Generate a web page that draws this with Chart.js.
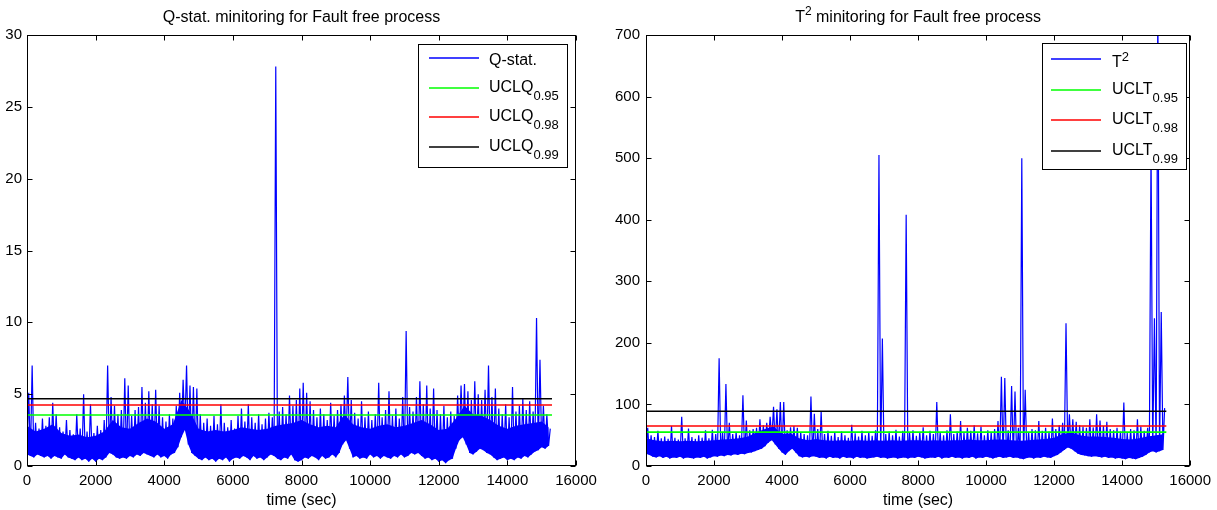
<!DOCTYPE html>
<html><head><meta charset="utf-8">
<script src="https://cdn.jsdelivr.net/npm/chart.js@4.4.1/dist/chart.umd.min.js"></script>
<style>
html,body{margin:0;padding:0;background:#fff;}
#wrap{position:relative;width:1217px;height:510px;overflow:hidden;background:#fff;}
.box{position:absolute;top:0;height:510px;}
canvas{display:block;}
</style></head><body>
<div id="wrap">
<div class="box" style="left:0;width:608px"><canvas id="cq" width="608" height="510"></canvas></div>
<div class="box" style="left:608px;width:609px"><canvas id="ct" width="609" height="510"></canvas></div>
</div>
<script>
// ---- data ----
const BIN_STEP = 100;      // seconds per bin (low value at bin start, high value at mid-bin)
const CORE_STEP = 250;     // seconds between readings of the dense band's upper edge
const END_TIME = 15300;    // last sample time
const xTicks = [0,2000,4000,6000,8000,10000,12000,14000,16000];
const qTicks = [0,5,10,15,20,25,30];
const tTicks = [0,100,200,300,400,500,600,700];
const limitLevels = ['0.95','0.98','0.99'];
const qLimits = [3.55,4.25,4.68];
const tLimits = [55,65,89];

// Q-statistic: per-bin low / high readings
const qLow = [
0.8,0.7,0.6,0.8,0.7,0.6,0.7,0.5,0.7,0.6,
0.5,0.8,0.6,0.5,0.4,0.6,0.4,0.5,0.3,0.5,
0.3,0.5,0.4,0.6,0.9,0.8,0.6,0.5,0.6,0.5,
0.7,0.6,0.8,0.7,0.9,0.8,0.7,0.6,0.8,0.6,
0.7,0.5,0.8,0.9,1.3,2.0,2.5,1.5,0.9,0.7,
0.5,0.4,0.6,0.4,0.5,0.3,0.5,0.4,0.6,0.3,
0.5,0.6,0.5,0.7,0.6,0.4,0.7,0.5,0.6,0.4,
0.6,0.8,0.7,0.5,0.4,0.6,0.5,0.8,0.4,0.3,
0.4,0.6,0.5,0.7,0.6,0.4,0.7,0.5,0.6,0.8,
0.6,0.9,1.5,1.8,1.2,0.6,0.7,0.5,0.6,0.5,
0.8,0.6,0.7,0.5,0.7,0.6,0.5,0.7,0.6,0.8,
0.6,0.7,0.9,0.8,0.9,0.7,0.5,0.6,0.4,0.5,
0.3,0.4,0.2,0.4,0.5,1.2,1.8,2.0,1.5,0.9,
0.8,1.0,1.2,1.1,0.9,0.8,0.6,0.4,0.5,0.6,
0.4,0.5,0.4,0.6,0.5,0.7,0.6,0.8,1.0,1.1,
1.3,1.2,1.4];
const qHigh = [
5.1,7.0,3.0,2.6,3.3,2.8,3.4,4.4,3.6,2.7,
2.4,3.2,2.5,2.2,3.6,2.6,5.0,2.4,4.3,2.3,
2.8,2.5,3.2,7.0,4.8,4.2,3.6,3.9,6.1,5.6,
3.5,3.9,4.1,5.5,4.4,5.2,4.3,5.3,4.2,3.4,
3.1,3.6,3.3,4.2,5.1,6.0,7.0,5.6,5.5,5.4,
3.6,3.0,3.3,2.8,3.5,2.9,4.3,3.0,2.7,3.2,
2.6,3.5,4.0,3.1,4.3,3.4,3.0,3.6,2.9,3.3,
3.7,3.4,27.8,3.8,4.1,3.6,4.9,4.2,4.6,5.4,
5.8,5.1,4.5,3.9,3.4,4.0,3.6,3.2,4.4,3.5,
3.9,4.3,4.9,6.2,4.6,3.7,3.3,4.5,3.4,3.8,
3.2,3.6,5.8,3.4,3.9,5.2,3.5,4.0,3.3,4.8,
9.4,4.1,3.8,4.8,5.9,4.3,5.6,4.0,5.4,3.9,
3.6,4.2,3.4,3.8,3.5,4.9,5.6,5.7,5.2,4.6,
5.9,5.0,4.6,5.3,7.0,4.8,5.4,4.0,3.6,4.3,
3.4,5.5,3.8,4.2,4.7,3.9,4.5,3.8,10.3,7.4,
4.2,3.6,2.6];
// Q-statistic: upper edge of the dense band, every CORE_STEP seconds
const qCore = [
2.8,2.4,2.6,2.9,2.3,2.1,2.2,2.0,2.1,2.4,
3.2,2.7,2.6,3.0,3.3,3.1,2.6,2.9,4.6,3.8,
2.6,2.4,2.5,2.4,2.5,2.7,2.6,2.5,2.6,2.8,
2.9,3.0,3.2,2.9,2.7,2.8,2.7,3.6,2.9,2.7,
2.6,2.8,2.9,2.7,2.8,3.0,3.2,2.9,2.5,2.6,
3.3,4.2,3.6,3.5,3.2,2.8,2.6,2.8,2.9,3.0,
3.1,2.6];

// T^2: per-bin low / high readings
const tLow = [
20,18,15,14,16,13,15,12,14,13,
15,12,14,13,12,14,13,15,12,14,
16,15,17,16,18,17,19,18,20,19,
21,22,24,26,28,32,38,42,35,28,
22,18,24,28,22,16,14,15,14,16,
15,13,14,12,15,13,14,12,15,13,
14,12,15,13,14,12,13,14,15,13,
14,12,13,14,12,13,14,12,14,13,
15,14,12,13,14,13,15,12,14,13,
15,13,14,12,14,13,15,12,14,13,
15,14,12,14,15,13,14,15,13,14,
12,11,13,14,12,14,13,15,14,13,
16,18,22,26,30,28,24,20,18,17,
16,15,16,15,14,15,13,14,12,13,
12,11,13,12,11,13,15,18,22,24,
22,24,26];
const tHigh = [
62,50,47,57,45,48,44,65,46,43,
80,45,61,47,44,50,46,58,45,59,
52,175,55,133,70,52,55,50,115,74,
58,60,62,76,66,70,80,96,92,104,
104,58,63,65,62,55,52,50,113,85,
60,89,52,57,49,55,47,56,50,46,
67,53,48,57,50,55,49,58,505,207,
52,56,50,59,48,57,408,54,58,49,
55,63,50,57,52,104,55,50,58,84,
52,56,73,54,62,57,66,53,64,50,
58,55,60,73,145,143,58,130,121,62,
500,124,55,60,58,73,57,62,56,77,
60,66,70,232,84,76,72,66,64,62,
76,63,84,74,65,72,60,58,62,56,
103,54,60,58,76,64,57,62,520,240,
760,250,94];
// T^2: upper edge of the dense band, every CORE_STEP seconds
const tCore = [
45,42,40,41,40,41,40,41,42,43,
44,45,48,55,60,64,52,53,45,42,
44,42,41,42,41,42,41,42,41,42,
41,42,42,41,42,41,42,42,43,42,
42,43,43,42,41,42,43,44,46,52,
55,50,48,48,47,46,44,43,45,48,
50,52];

// ---- helpers ----
const FONT = '"Liberation Sans", Arial, Helvetica, sans-serif';
const limitColors = ['#00ff00','#ff0000','#000000'];

function band(lo, hi){
  const pts = [];
  for (let i = 0; i < lo.length; i++){
    pts.push({x: i*BIN_STEP, y: lo[i]});
    pts.push({x: i*BIN_STEP + BIN_STEP/2, y: hi[i]});
  }
  return pts;
}
function series(vals, step){
  return vals.map((v, i) => ({x: i*step, y: v}));
}

const matlabPlugin = {
  id: 'matlab',
  afterDatasetsDraw(chart, args, o){
    const {ctx, chartArea: a} = chart;
    const xs = chart.scales.x, ys = chart.scales.y;
    ctx.save();
    ctx.strokeStyle = '#000'; ctx.lineWidth = 1;
    const L = Math.round(a.left)+0.5, R = Math.round(a.right)-0.5,
          T = Math.round(a.top)+0.5, B = Math.round(a.bottom)-0.5;
    ctx.beginPath();
    xs.ticks.forEach(t => {
      const p = Math.round(xs.getPixelForValue(t.value))+0.5;
      ctx.moveTo(p, B); ctx.lineTo(p, B-5);
      ctx.moveTo(p, T); ctx.lineTo(p, T+5);
    });
    ys.ticks.forEach(t => {
      const p = Math.round(ys.getPixelForValue(t.value))+0.5;
      ctx.moveTo(L, p); ctx.lineTo(L+5, p);
      ctx.moveTo(R, p); ctx.lineTo(R-5, p);
    });
    ctx.stroke();
    ctx.strokeRect(L, T, R-L, B-T);

    // legend
    const lg = o.legend;
    ctx.fillStyle = '#fff';
    ctx.fillRect(lg.x, lg.y, lg.w, lg.h);
    ctx.strokeStyle = '#000'; ctx.lineWidth = 1;
    ctx.strokeRect(lg.x+0.5, lg.y+0.5, lg.w, lg.h);
    lg.items.forEach((it, k) => {
      const yy = Math.round(lg.y + lg.rowStart + k*lg.rowGap);
      ctx.strokeStyle = it.color; ctx.lineWidth = 1.5;
      ctx.beginPath(); ctx.moveTo(lg.x+lg.lineX0, yy); ctx.lineTo(lg.x+lg.lineX1, yy); ctx.stroke();
      ctx.fillStyle = '#000';
      ctx.textAlign = 'left'; ctx.textBaseline = 'alphabetic';
      ctx.font = '16px ' + FONT;
      let tx = lg.x + lg.textX;
      let base = yy + (it.sub ? 4 : (it.sup ? 8 : 6.5));
      ctx.fillText(it.text, tx, base);
      tx += ctx.measureText(it.text).width;
      if (it.sub){ ctx.font = '13px ' + FONT; ctx.fillText(it.sub, tx, yy + 11.5); }
      if (it.sup){ ctx.font = '13px ' + FONT; ctx.fillText(it.sup, tx, yy + 2); }
    });

    // title
    const cx = (a.left + a.right)/2;
    const tt = o.title;
    ctx.fillStyle = '#000'; ctx.textBaseline = 'alphabetic'; ctx.textAlign = 'left';
    ctx.font = '16px ' + FONT;
    const w1 = ctx.measureText(tt.pre).width;
    const w3 = ctx.measureText(tt.post).width;
    ctx.font = '12px ' + FONT;
    const w2 = tt.sup ? ctx.measureText(tt.sup).width : 0;
    let x0 = cx - (w1+w2+w3)/2;
    ctx.font = '16px ' + FONT;
    ctx.fillText(tt.pre, x0, 22);
    if (tt.sup){ ctx.font = '12px ' + FONT; ctx.fillText(tt.sup, x0+w1, 15); }
    ctx.font = '16px ' + FONT;
    ctx.fillText(tt.post, x0+w1+w2, 22);
    ctx.restore();
  }
};

function makeChart(id, o){
  const ds = [{
    label: 'low edge', data: series(o.lo, BIN_STEP), borderWidth: 0, borderColor: 'rgba(0,0,0,0)',
    pointRadius: 0, fill: false, order: 12
  }, {
    label: 'dense band', data: series(o.core, CORE_STEP), borderWidth: 0, borderColor: 'rgba(0,0,0,0)',
    backgroundColor: '#0000ff', pointRadius: 0, fill: 0, order: 11
  }, {
    label: o.seriesLabel, data: band(o.lo, o.hi), borderColor: '#0000ff',
    fill: false, borderWidth: 1.2, pointRadius: 0, borderJoinStyle: 'bevel', tension: 0, order: 10
  }];
  o.limits.forEach((v, k) => ds.push({
    label: o.limitName + limitLevels[k],
    data: [{x: 0, y: v}, {x: END_TIME, y: v}],
    borderColor: limitColors[k], borderWidth: 1.6, pointRadius: 0, fill: false, order: 3-k
  }));
  return new Chart(document.getElementById(id), {
    type: 'line',
    data: {datasets: ds},
    plugins: [matlabPlugin],
    options: {
      responsive: false, animation: false, events: [],
      parsing: false, normalized: true,
      layout: {padding: {left: 0, top: 35, right: o.padRight, bottom: 0}},
      plugins: {
        legend: {display: false}, tooltip: {enabled: false},
        filler: {propagate: false},
        matlab: {legend: o.legend, title: o.title}
      },
      scales: {
        x: {
          type: 'linear', min: 0, max: 16000,
          afterBuildTicks: s => { s.ticks = xTicks.map(v => ({value: v})); },
          grid: {display: false, drawTicks: false}, border: {display: false},
          ticks: {color: '#000', font: {family: FONT, size: 15}, padding: 6, maxRotation: 0, autoSkip: false,
                  callback: v => String(v)},
          title: {display: true, text: 'time (sec)', color: '#000', font: {family: FONT, size: 16}, padding: {top: 0, bottom: 0}},
          afterFit: s => { s.height = 44; }
        },
        y: {
          type: 'linear', min: 0, max: o.ymax,
          afterBuildTicks: s => { s.ticks = o.yTicks.map(v => ({value: v})); },
          grid: {display: false, drawTicks: false}, border: {display: false},
          ticks: {color: '#000', font: {family: FONT, size: 15}, padding: o.yPad, autoSkip: false,
                  callback: v => String(v)},
          afterFit: s => { s.width = o.yWidth; }
        }
      }
    }
  });
}

makeChart('cq', {
  lo: qLow, hi: qHigh, core: qCore, limits: qLimits, ymax: 30, yTicks: qTicks,
  seriesLabel: 'Q-stat.', limitName: 'UCLQ', padRight: 32, yWidth: 27, yPad: 5,
  title: {pre: 'Q-stat. minitoring for Fault free process', sup: '', post: ''},
  legend: {x: 418, y: 44, w: 149, h: 123, rowStart: 14, rowGap: 29.7, lineX0: 11, lineX1: 61, textX: 71,
    items: [
      {text: 'Q-stat.', color: '#0000ff'},
      {text: 'UCLQ', sub: limitLevels[0], color: limitColors[0]},
      {text: 'UCLQ', sub: limitLevels[1], color: limitColors[1]},
      {text: 'UCLQ', sub: limitLevels[2], color: limitColors[2]}
    ]}
});

makeChart('ct', {
  lo: tLow, hi: tHigh, core: tCore, limits: tLimits, ymax: 700, yTicks: tTicks,
  seriesLabel: 'T2', limitName: 'UCLT', padRight: 25, yWidth: 38, yPad: 6,
  title: {pre: 'T', sup: '2', post: ' minitoring for Fault free process'},
  legend: {x: 434, y: 43, w: 144, h: 126, rowStart: 16, rowGap: 30.7, lineX0: 9, lineX1: 59, textX: 70,
    items: [
      {text: 'T', sup: '2', color: '#0000ff'},
      {text: 'UCLT', sub: limitLevels[0], color: limitColors[0]},
      {text: 'UCLT', sub: limitLevels[1], color: limitColors[1]},
      {text: 'UCLT', sub: limitLevels[2], color: limitColors[2]}
    ]}
});
</script>
</body></html>
